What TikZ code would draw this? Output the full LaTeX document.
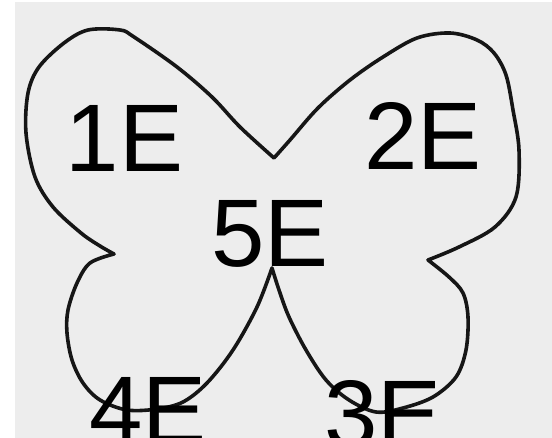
\documentclass[tikz,border=0pt]{standalone}
\usepackage{fontspec}
\setmainfont{Liberation Sans}
\definecolor{paper}{HTML}{EDEDED}
\definecolor{ink}{HTML}{161616}
\tikzset{
  label/.style={anchor=base west, inner sep=0pt, text=black,
    font=\fontsize{96}{96}\selectfont},
  outline/.style={draw=ink, line width=3.6pt, line join=round, line cap=round},
  wing/.style={smooth, tension=0.55}
}
\begin{document}
\begin{tikzpicture}[x=1pt, y=-1pt]
  \useasboundingbox (0,0) rectangle (552,438);
  \clip (0,0) rectangle (552,438);
  \fill[white] (0,0) rectangle (552,438);
  \fill[paper] (15,2) rectangle (552,438);

  % butterfly outline: four wings meeting at sharp notches
  \path[outline]
    (274,158)
    -- plot[wing] coordinates {(274,158) (240,127) (212,97) (177,67) (134,37)
        (120,30) (88,30) (64,43) (39,67) (28,93) (26,133) (35,177) (53,207)
        (81,233) (100,246) (114,254)}
    -- plot[wing] coordinates {(114,254) (90,263) (77,283) (68,310) (67,333)
        (72,360) (83,383) (100,400) (127,410) (157,409) (183,402) (207,383)
        (233,350) (257,307) (272,268)}
    -- plot[wing] coordinates {(272,268) (279,290) (289,317) (306,350)
        (326,380) (349,400) (376,412) (403,408) (433,397) (456,377) (466,350)
        (468,317) (463,293) (449,277) (428,260)}
    -- plot[wing] coordinates {(428,260) (459,247) (495,227) (516,197)
        (519,150) (513,110) (506,75) (494,53) (477,40) (450,33) (417,38)
        (383,57) (350,80) (318,108) (290,140) (274,158)};

  % wing labels
  \node[label] (e1) at (65.6,172) {1E};
  \node[label] (e2) at (364,170) {2E};
  \node[label] (e5) at (211,267) {5E};
  \node[label] (e4) at (89,444) {4E};
  \node[label] (e3) at (324,447) {3E};
\end{tikzpicture}
\end{document}
